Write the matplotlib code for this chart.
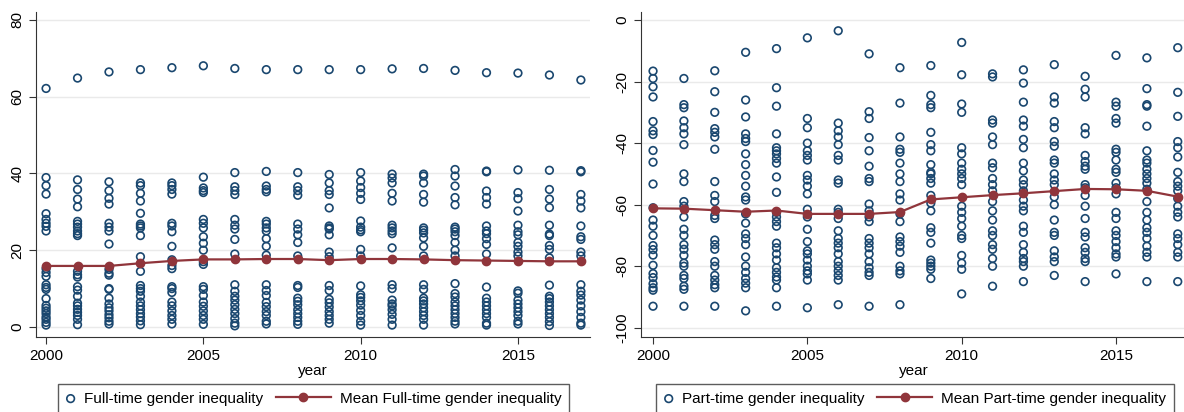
import numpy as np
import matplotlib.pyplot as plt
from matplotlib.legend_handler import HandlerLine2D

plt.rcParams['font.family'] = ['Liberation Sans', 'DejaVu Sans']

years = list(range(2000, 2018))

# Full-time gender inequality, one list of country values per year
ft_values = [
    [62.1, 38.9, 36.8, 34.6, 29.5, 28.0, 27.0, 26.2, 25.0, 15.2, 14.2, 13.2, 11.0, 10.3, 9.8, 7.4, 5.6, 4.9, 4.2, 3.5, 2.6, 2.0, 1.2, 0.5],
    [64.8, 38.3, 35.8, 33.3, 31.3, 27.5, 26.8, 26.0, 25.0, 24.3, 23.8, 14.5, 13.6, 13.0, 10.5, 9.6, 8.0, 6.2, 5.5, 4.6, 3.8, 3.0, 2.0, 0.6],
    [66.4, 37.8, 35.5, 33.5, 32.0, 27.0, 26.0, 25.0, 21.6, 15.0, 14.0, 13.5, 10.0, 9.8, 7.5, 6.0, 5.0, 4.2, 3.2, 2.4, 1.5, 0.8],
    [67.0, 37.5, 36.8, 34.8, 32.8, 29.6, 26.8, 26.3, 25.8, 23.8, 18.3, 14.5, 10.8, 10.0, 9.3, 8.0, 6.5, 5.5, 4.5, 3.5, 2.6, 1.6, 0.6],
    [67.5, 37.5, 36.8, 35.8, 34.6, 27.0, 26.3, 24.8, 21.0, 17.5, 16.0, 15.2, 10.5, 10.0, 9.0, 6.5, 5.5, 4.2, 3.0, 2.0, 0.8],
    [68.0, 39.0, 36.2, 35.5, 35.0, 28.0, 27.0, 25.8, 23.5, 21.8, 20.0, 17.0, 16.3, 10.5, 9.8, 8.2, 6.5, 5.4, 4.2, 3.0, 2.0, 0.7],
    [67.3, 40.2, 36.5, 35.5, 34.5, 28.0, 26.5, 25.5, 22.8, 19.0, 11.0, 9.3, 8.0, 7.0, 5.8, 4.6, 3.5, 2.2, 1.0, 0.3],
    [67.0, 40.5, 36.7, 35.8, 35.2, 27.5, 26.8, 25.8, 25.0, 23.0, 21.0, 18.7, 11.0, 9.5, 8.2, 6.4, 5.3, 4.0, 3.0, 1.5, 0.8],
    [67.0, 40.2, 36.5, 35.5, 34.3, 26.8, 25.5, 24.0, 22.0, 18.5, 10.8, 10.3, 7.5, 6.7, 5.8, 4.5, 3.5, 2.5, 1.5, 0.7],
    [67.0, 39.7, 37.5, 35.5, 34.5, 31.0, 26.3, 25.8, 25.5, 24.0, 19.5, 18.3, 10.8, 9.5, 7.2, 6.3, 5.2, 4.0, 3.0, 2.0, 1.0],
    [67.0, 40.2, 38.0, 36.3, 34.8, 33.2, 27.6, 26.0, 25.3, 24.8, 20.2, 18.5, 10.7, 8.4, 7.7, 6.8, 5.7, 4.3, 3.0, 1.5, 0.5],
    [67.2, 39.8, 38.8, 37.5, 34.8, 32.8, 26.5, 25.8, 25.0, 24.3, 20.6, 11.0, 10.0, 7.0, 6.0, 5.5, 4.5, 3.3, 2.0, 0.5],
    [67.3, 39.8, 39.3, 37.5, 34.5, 32.5, 25.8, 25.2, 24.5, 23.2, 21.0, 18.5, 11.0, 9.8, 7.5, 6.8, 6.0, 5.0, 4.0, 3.0, 2.0, 0.5],
    [66.8, 41.0, 39.3, 36.7, 33.7, 31.8, 26.0, 25.5, 24.8, 23.8, 22.0, 20.0, 18.5, 11.3, 8.7, 7.8, 6.5, 5.5, 4.5, 3.5, 2.5, 1.5, 0.8],
    [66.2, 40.6, 40.4, 35.4, 33.7, 32.0, 26.3, 25.0, 24.3, 23.0, 21.5, 19.0, 10.4, 7.5, 6.5, 5.5, 4.5, 3.5, 2.5, 1.0, 0.5],
    [66.1, 40.9, 35.0, 33.4, 30.2, 26.5, 24.8, 24.0, 22.0, 21.0, 19.5, 18.5, 9.4, 8.8, 7.0, 6.0, 5.0, 4.0, 3.0, 1.5, 0.8],
    [65.6, 40.8, 35.8, 33.3, 31.1, 26.5, 24.2, 23.8, 21.2, 20.2, 18.0, 10.9, 8.0, 7.4, 6.5, 5.5, 4.5, 3.5, 2.5, 1.4, 0.4],
    [64.3, 40.7, 40.4, 34.5, 32.8, 31.0, 26.3, 23.5, 22.8, 19.5, 18.5, 11.0, 9.3, 8.3, 7.0, 5.5, 4.0, 2.5, 1.0, 0.5],
]
ft_mean = [15.9, 15.9, 15.9, 16.6, 17.2, 17.6, 17.6, 17.7, 17.7, 17.4,
           17.7, 17.7, 17.6, 17.4, 17.3, 17.2, 17.1, 17.1]

# Part-time gender inequality
pt_values = [
    [-16.6, -19.0, -21.7, -25.0, -33.0, -36.0, -37.2, -42.4, -46.2, -53.3, -61.0, -65.0, -67.0, -70.0, -73.3, -74.6, -76.4, -79.7, -82.4, -83.7, -85.7, -87.0, -87.8, -93.0],
    [-19.0, -27.5, -28.5, -32.8, -35.0, -37.0, -40.5, -50.0, -52.5, -59.0, -60.5, -64.0, -68.0, -70.0, -73.0, -74.5, -76.5, -79.0, -80.0, -83.0, -84.0, -86.5, -87.5, -93.0],
    [-16.5, -23.3, -30.0, -35.3, -36.5, -38.0, -42.0, -52.5, -57.0, -59.0, -63.5, -64.5, -71.5, -73.0, -74.5, -78.5, -80.0, -83.0, -84.5, -86.0, -87.0, -93.0],
    [-10.5, -26.0, -31.5, -37.0, -38.5, -39.5, -43.5, -47.0, -50.5, -54.0, -57.5, -58.5, -63.0, -66.0, -69.5, -71.0, -73.0, -77.0, -80.0, -82.0, -84.0, -85.5, -87.0, -94.5],
    [-9.3, -22.0, -28.0, -37.0, -41.5, -42.5, -43.5, -45.0, -46.5, -51.0, -56.0, -62.5, -64.0, -65.5, -67.0, -72.5, -74.0, -76.0, -78.0, -80.5, -82.0, -83.5, -84.5, -87.0, -93.0],
    [-5.8, -32.0, -35.0, -40.0, -42.5, -44.0, -45.5, -50.5, -52.0, -54.0, -56.5, -61.5, -64.0, -68.0, -72.0, -75.0, -76.0, -78.0, -80.0, -81.5, -82.5, -84.5, -93.5],
    [-3.5, -33.5, -36.0, -38.0, -40.5, -44.0, -45.5, -52.0, -53.0, -61.5, -62.5, -64.5, -68.5, -71.0, -72.5, -74.0, -76.0, -78.5, -80.0, -81.5, -83.0, -84.5, -92.5],
    [-11.0, -29.8, -32.0, -38.2, -42.5, -47.5, -51.5, -52.5, -59.8, -62.0, -64.0, -65.5, -71.0, -72.5, -74.0, -76.0, -78.5, -80.5, -82.0, -83.0, -93.0],
    [-15.5, -27.0, -38.0, -42.0, -43.0, -46.5, -50.0, -52.5, -56.5, -58.5, -63.0, -65.5, -70.5, -72.0, -73.5, -75.5, -80.0, -81.5, -82.5, -92.5],
    [-14.8, -24.5, -27.5, -28.5, -36.5, -40.5, -42.5, -47.0, -49.5, -50.0, -51.5, -53.0, -57.0, -59.5, -62.0, -67.5, -69.0, -72.5, -78.0, -79.0, -80.0, -81.0, -84.0],
    [-7.3, -17.8, -27.3, -30.0, -41.5, -43.5, -46.5, -48.5, -50.0, -51.5, -53.5, -60.5, -62.5, -64.5, -67.0, -70.0, -71.0, -76.5, -79.0, -81.0, -89.0],
    [-17.5, -18.5, -32.5, -33.5, -38.0, -40.5, -46.5, -48.0, -51.5, -53.5, -55.5, -59.0, -62.0, -65.0, -68.5, -70.0, -73.0, -74.5, -77.5, -80.0, -86.5],
    [-16.2, -20.5, -26.7, -32.5, -34.5, -38.8, -41.5, -46.5, -49.0, -52.0, -53.5, -55.5, -58.5, -60.5, -62.0, -67.0, -69.0, -73.0, -75.5, -77.5, -78.5, -80.0, -85.0],
    [-14.5, -25.0, -27.0, -33.0, -35.0, -39.5, -41.0, -45.5, -46.5, -50.0, -52.0, -53.5, -57.5, -60.0, -65.0, -69.0, -70.0, -75.0, -77.0, -78.5, -83.0],
    [-18.3, -22.5, -25.0, -35.0, -37.0, -44.0, -46.0, -47.5, -48.5, -53.5, -54.5, -57.0, -60.5, -64.5, -69.0, -70.5, -74.0, -75.5, -77.5, -78.5, -85.0],
    [-11.5, -26.7, -28.0, -32.0, -33.5, -42.0, -43.0, -45.5, -48.5, -49.5, -53.0, -54.5, -56.5, -62.5, -64.5, -68.5, -70.0, -72.0, -74.0, -76.0, -77.0, -82.5],
    [-12.3, -22.3, -27.5, -28.0, -34.5, -42.5, -45.5, -46.5, -48.5, -50.0, -51.5, -53.0, -55.0, -59.0, -62.5, -65.0, -67.5, -69.0, -71.0, -73.5, -75.5, -77.0, -85.0],
    [-9.0, -23.5, -31.3, -39.5, -41.5, -44.5, -49.5, -52.5, -54.0, -55.5, -58.0, -60.5, -62.5, -64.0, -69.5, -71.0, -73.0, -75.5, -77.0, -85.0],
]
pt_mean = [-61.2, -61.3, -61.8, -62.3, -61.9, -63.0, -63.0, -63.0, -62.4, -58.3,
           -57.6, -56.9, -56.3, -55.6, -54.9, -55.0, -55.5, -57.4]

navy = "#1a476f"
maroon = "#90353b"


# legend line that reaches further left than the (short) handle box
class WideLine(HandlerLine2D):
    def get_xdata(self, legend, xdescent, ydescent, width, height, fontsize):
        x0 = -xdescent - 3.0 * fontsize
        x1 = -xdescent + width
        return np.array([x0, x1]), np.array([(x0 + x1) / 2])


fig = plt.figure(figsize=(11.84, 4.12), dpi=100)
ax1 = fig.add_axes([36/1184, 75/412, 554/1184, 325/412])
ax2 = fig.add_axes([641/1184, 75/412, 546/1184, 325/412])


def draw(ax, values, mean, label, yticks, ylim, xlim, leg_x):
    for yr, vals in zip(years, values):
        ax.scatter([yr] * len(vals), vals, s=30, facecolors="none",
                   edgecolors=navy, linewidths=1.2, zorder=2,
                   label=label if yr == years[0] else None)
    line, = ax.plot(years, mean, color=maroon, lw=1.6, marker="o", ms=6,
                    zorder=3, label="Mean " + label)
    ax.set_xlim(*xlim)
    ax.set_ylim(*ylim)
    ax.set_xticks([2000, 2005, 2010, 2015])
    ax.set_yticks(yticks)
    ax.set_yticklabels([str(t) for t in yticks], rotation=90, va="center")
    ax.grid(axis="y", color="#eaeaea", lw=1)
    ax.set_axisbelow(True)
    for s in ["top", "right"]:
        ax.spines[s].set_visible(False)
    for s in ["left", "bottom"]:
        ax.spines[s].set_color("#333333")
    ax.tick_params(labelsize=11, color="#333333", length=5)
    ax.set_xlabel("year", fontsize=11, labelpad=1)
    h, l = ax.get_legend_handles_labels()
    leg = fig.legend(h, l, loc="upper center", bbox_to_anchor=(leg_x, 0.068),
                     borderaxespad=0, ncol=2, fontsize=11, scatterpoints=1,
                     frameon=True, fancybox=False, edgecolor="#333333",
                     handlelength=0.6, handletextpad=0.6, columnspacing=3.8,
                     borderpad=0.5, handler_map={line: WideLine()})
    leg.get_frame().set_linewidth(1)


draw(ax1, ft_values, ft_mean, "Full-time gender inequality",
     [0, 20, 40, 60, 80], (-2.6, 82), (1999.68, 2017.29), 0.265)
draw(ax2, pt_values, pt_mean, "Part-time gender inequality",
     [0, -20, -40, -60, -80, -100], (-103, 2.6), (1999.61, 2017.3), 0.773)

fig.savefig("out.png", dpi=100)
